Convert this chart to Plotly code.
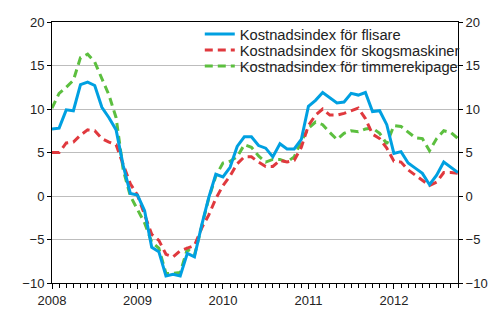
import plotly.graph_objects as go

months = list(range(58))  # Jan 2008 .. Oct 2012
year_ticks = [0, 12, 24, 36, 48]
year_labels = ["2008", "2009", "2010", "2011", "2012"]

flisare = [7.7, 7.8, 9.9, 9.8, 12.8, 13.1, 12.7, 10.2, 9.0, 7.6,
           3.5, 0.3, 0.1, -1.7, -5.9, -6.4, -9.2, -9.0, -9.2, -6.6,
           -7.0, -3.4, -0.2, 2.5, 2.2, 3.3, 5.7, 6.8, 6.8, 5.8,
           5.5, 4.5, 6.0, 5.4, 5.4, 6.5, 10.3, 11.0, 11.9, 11.3,
           10.7, 10.8, 11.8, 11.6, 11.9, 9.7, 9.8, 8.2, 4.9, 5.1,
           3.8, 3.2, 2.6, 1.3, 2.4, 3.9, 3.3, 2.7]

skogsmaskiner = [5.0, 5.0, 6.1, 6.2, 7.0, 7.6, 7.5, 6.6, 6.2, 5.9,
                 3.6, 1.4, 0.1, -2.2, -4.4, -5.1, -6.7, -7.0, -6.3, -6.0,
                 -5.7, -3.7, -2.2, -0.3, 1.2, 2.3, 3.7, 4.5, 4.5, 3.9,
                 3.4, 3.4, 4.1, 3.9, 4.1, 5.6, 8.1, 9.3, 10.0, 9.3,
                 9.3, 9.5, 9.8, 10.1, 8.9, 7.1, 6.6, 5.5, 4.0, 3.9,
                 3.0, 2.4, 1.8, 1.2, 1.6, 2.7, 2.7, 2.6]

timmerekipage = [10.1, 11.8, 12.5, 13.3, 15.9, 16.3, 15.4, 13.6, 11.6, 9.0,
                 3.0, 0.0, -1.5, -3.1, -5.3, -6.0, -8.9, -8.9, -8.8, -6.1,
                 -6.8, -3.7, -0.3, 2.3, 3.8, 4.0, 4.5, 5.9, 5.6, 4.6,
                 3.9, 4.2, 4.2, 3.9, 4.5, 6.3, 7.8, 8.5, 8.2, 7.3,
                 6.5, 7.2, 7.5, 7.4, 7.7, 7.8, 7.2, 6.0, 8.1, 8.0,
                 7.4, 6.7, 6.6, 5.2, 6.6, 7.5, 7.3, 6.6]

names = ["Kostnadsindex för flisare",
         "Kostnadsindex för skogsmaskiner",
         "Kostnadsindex för timmerekipage"]

BLUE = "#00a0e1"
RED = "#e0393e"
GREEN = "#5cbf3f"

fig = go.Figure()
fig.add_trace(go.Scatter(x=months, y=timmerekipage, name=names[2], mode="lines",
                         legend="legend3",
                         line=dict(color=GREEN, width=3, dash="8px,5px")))
fig.add_trace(go.Scatter(x=months, y=skogsmaskiner, name=names[1], mode="lines",
                         legend="legend2",
                         line=dict(color=RED, width=3, dash="8px,5px")))
fig.add_trace(go.Scatter(x=months, y=flisare, name=names[0], mode="lines",
                         legend="legend",
                         line=dict(color=BLUE, width=3)))
# invisible trace to activate the right-hand axis
fig.add_trace(go.Scatter(x=[0], y=[0], yaxis="y2", mode="markers",
                         marker=dict(opacity=0), showlegend=False, hoverinfo="skip"))

font = dict(family="Liberation Sans, Arial, sans-serif", size=13, color="#222222")

def leg(yc):
    return dict(x=0.364, y=yc, xanchor="left", yanchor="middle",
                bgcolor="rgba(0,0,0,0)", font=dict(size=14.7, color="#222222"),
                itemwidth=30)

fig.update_layout(
    width=500, height=330,
    margin=dict(l=52, r=33, t=22, b=47),
    paper_bgcolor="white", plot_bgcolor="white",
    font=font,
    showlegend=True,
    legend=leg(0.952),
    legend2=leg(0.891),
    legend3=leg(0.830),
    xaxis=dict(range=[0, 57], tickvals=year_ticks, ticktext=year_labels,
               ticks="outside", ticklen=5, tickcolor="black",
               showline=True, linecolor="black", linewidth=1, mirror=True,
               showgrid=False, zeroline=False,
               minor=dict(dtick=1, tick0=0, ticks="outside", ticklen=4, tickcolor="black", showgrid=False)),
    yaxis=dict(range=[-10, 20], dtick=5, tick0=-10,
               ticks="outside", ticklen=4, tickcolor="black",
               showline=True, linecolor="black", linewidth=1,
               showgrid=True, gridcolor="#bdbdbd", gridwidth=1, zeroline=False),
    yaxis2=dict(range=[-10, 20], dtick=5, tick0=-10, overlaying="y", side="right",
                ticks="outside", ticklen=4, tickcolor="black",
                showline=True, linecolor="black", linewidth=1,
                showgrid=False, zeroline=False),
)

fig.write_html("out.html")
